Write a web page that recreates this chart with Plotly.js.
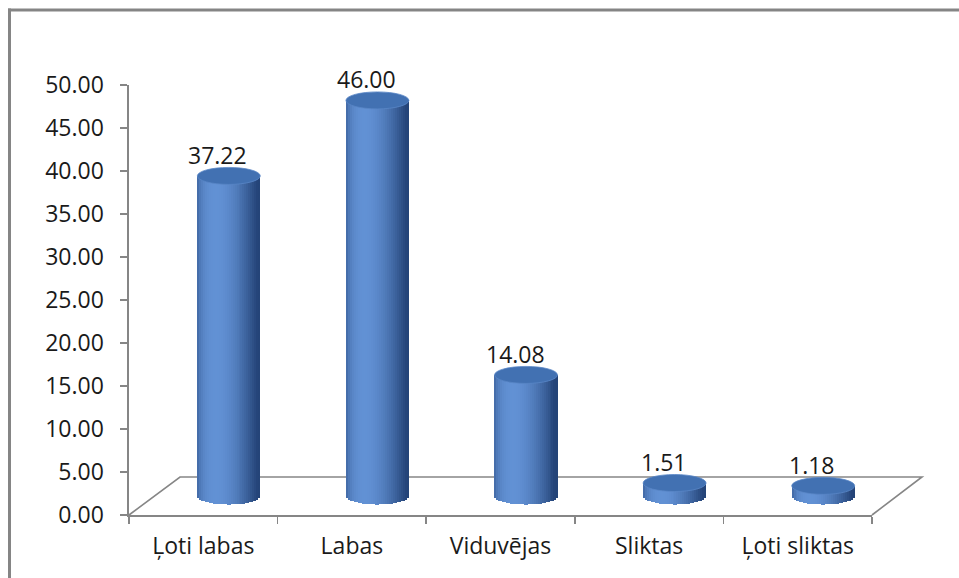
<!DOCTYPE html>
<html>
<head>
<meta charset="utf-8">
<script src="https://cdn.plot.ly/plotly-3.0.1.min.js"></script>
<style>html,body{margin:0;padding:0;background:#fff;}#chart{width:959px;height:578px;}</style>
</head>
<body>
<div id="chart"></div>
<script>
// ---- data ----
const categories = ['Ļoti labas', 'Labas', 'Viduvējas', 'Sliktas', 'Ļoti sliktas'];
const values = [37.22, 46.00, 14.08, 1.51, 1.18];
const valueLabels = ['37.22', '46.00', '14.08', '1.51', '1.18'];
const yTickVals = [0, 5, 10, 15, 20, 25, 30, 35, 40, 45, 50];
const yTickText = ['0.00', '5.00', '10.00', '15.00', '20.00', '25.00', '30.00', '35.00', '40.00', '45.00', '50.00'];

// ---- geometry (pixels) ----
const W = 959, H = 578;
const plotL = 129, plotR = 872, plotT = 85, plotB = 515;
const plotW = plotR - plotL, plotH = plotB - plotT;
const yMax = 50;
const catPx = plotW / categories.length;
const pxPerY = plotH / yMax;
const floorDX = 51, floorDY = 38;          // depth of the 3D floor
const cylShiftX = floorDX / 2, cylShiftY = floorDY / 2;
const cylWpx = 63, capHpx = 17;

const xShift = cylShiftX / catPx;
const yShift = cylShiftY / pxPerY;
const cylW = cylWpx / catPx;
const capHalf = (capHpx / 2) / pxPerY;

const font = '"Open Sans", Lato, sans-serif';
const txtColor = '#1a1a1a';
const axisColor = '#868686';

// ---- traces ----
const xIdx = categories.map((c, i) => i);
const traces = [];
// invisible trace to establish the category axis
traces.push({
  type: 'scatter', mode: 'markers', x: categories, y: values.map(() => 0),
  marker: {opacity: 0}, hoverinfo: 'skip', showlegend: false, xaxis: 'x', yaxis: 'y'
});

const N = 32;
const dark = [36, 68, 120], light = [100, 148, 216];
function mix(a, b, t) { return 'rgb(' + a.map((v, j) => Math.round(v + (b[j] - v) * t)).join(',') + ')'; }
for (let k = 0; k < N; k++) {
  const t0 = -1 + 2 * k / N, t1 = -1 + 2 * (k + 1) / N, tc = (t0 + t1) / 2;
  const theta = Math.asin(tc), phi = -0.38;
  let inten = Math.cos(theta - phi); inten = Math.max(0, inten);
  inten = Math.pow(inten, 1.5) * 0.88 + 0.12 * (1 - (tc + 1) / 2);
  const depth = capHalf * Math.sqrt(Math.max(0, 1 - tc * tc));
  traces.push({
    type: 'bar', x: xIdx, y: values.map(v => v + depth), base: values.map(() => -depth),
    offset: t0 * cylW / 2 - 0.0008, width: cylW / N + 0.0016,
    marker: {color: mix(dark, light, inten), line: {width: 0}},
    hoverinfo: 'skip', showlegend: false, xaxis: 'x2', yaxis: 'y2'
  });
}

// ---- shapes ----
const px2paperX = px => (px - plotL) / plotW;
const px2paperY = py => (plotB - py) / plotH;
const shapes = [];
// floor
const fx0 = px2paperX(plotL), fx1 = px2paperX(plotR);
const fbx0 = px2paperX(plotL + floorDX), fbx1 = px2paperX(plotR + floorDX * 0.98);
const fy0 = px2paperY(plotB), fy1 = px2paperY(plotB - floorDY);
shapes.push({
  type: 'path', xref: 'paper', yref: 'paper', layer: 'below',
  path: `M ${fx0} ${fy0} L ${fbx0} ${fy1} L ${fbx1} ${fy1} L ${fx1} ${fy0}`,
  line: {color: axisColor, width: 1.6}
});
// cylinder caps
values.forEach((v, i) => {
  shapes.push({
    type: 'circle', xref: 'x2', yref: 'y2', layer: 'above',
    x0: i - cylW / 2, x1: i + cylW / 2, y0: v - capHalf, y1: v + capHalf,
    fillcolor: '#4271b2', line: {color: '#5986c6', width: 0.8}
  });
});
// outer chart border (top and left)
shapes.push({type: 'line', xref: 'paper', yref: 'paper', x0: px2paperX(8), x1: px2paperX(W + 5),
  y0: px2paperY(10), y1: px2paperY(10), line: {color: '#858585', width: 3}});
shapes.push({type: 'line', xref: 'paper', yref: 'paper', x0: px2paperX(9.5), x1: px2paperX(9.5),
  y0: px2paperY(8.5), y1: px2paperY(H + 5), line: {color: '#858585', width: 3}});

// ---- value labels ----
const annotations = values.map((v, i) => ({
  x: i, y: v, xref: 'x2', yref: 'y2', text: valueLabels[i], showarrow: false,
  xshift: -11, yshift: 21, yanchor: 'middle', xanchor: 'center',
  font: {family: font, size: 23, color: txtColor}
}));

const layout = {
  width: W, height: H,
  margin: {l: plotL, r: W - plotR, t: plotT, b: H - plotB, pad: 0},
  paper_bgcolor: '#ffffff', plot_bgcolor: 'rgba(0,0,0,0)',
  barmode: 'overlay', bargap: 0, showlegend: false,
  font: {family: font, size: 23, color: txtColor},
  xaxis: {
    type: 'category', categoryarray: categories, range: [-0.5, categories.length - 0.5],
    showline: true, linecolor: axisColor, linewidth: 1.6, showgrid: false, zeroline: false,
    ticks: 'outside', tickson: 'boundaries', ticklen: 7, tickcolor: axisColor, tickwidth: 1.6,
    tickfont: {family: font, size: 23, color: txtColor}, ticklabelstandoff: 10, fixedrange: true
  },
  yaxis: {
    range: [0, yMax], tickvals: yTickVals, ticktext: yTickText,
    showline: true, linecolor: axisColor, linewidth: 1.6, showgrid: false, zeroline: false,
    ticks: 'outside', ticklen: 7, tickcolor: axisColor, tickwidth: 1.6,
    tickfont: {family: font, size: 23, color: txtColor}, ticklabelstandoff: 12, fixedrange: true
  },
  xaxis2: {overlaying: 'x', range: [-0.5 - xShift, categories.length - 0.5 - xShift], visible: false, fixedrange: true},
  yaxis2: {overlaying: 'y', range: [-yShift, yMax - yShift], visible: false, fixedrange: true},
  shapes: shapes, annotations: annotations
};

Plotly.newPlot('chart', traces, layout, {staticPlot: true, displayModeBar: false});
</script>
</body>
</html>
